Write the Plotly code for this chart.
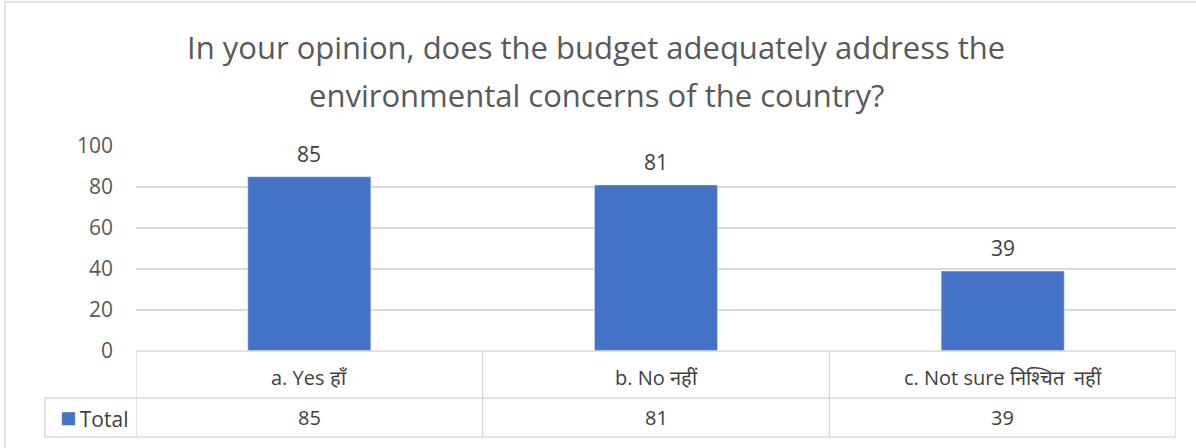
import plotly.graph_objects as go

categories = ["a. Yes हाँ", "b. No नहीं", "c. Not sure निश्चित  नहीं"]
totals = [85, 81, 39]
series_name = "Total"
title_lines = ["In your opinion, does the budget adequately address the",
               "environmental concerns of the country?"]
y_ticks = [0, 20, 40, 60, 80, 100]

BLUE = "#4472C4"
GREY = "#595959"
TXT = "#404040"
LINE = "#D9D9D9"
FONT = "Open Sans, Liberation Sans, sans-serif"

# plot area in px: x 136..1176, y 146..351
L, R, T, B = 136, 20, 146, 97
pw, ph = 1196 - L - R, 448 - T - B


def px_x(x):
    return (x - L) / pw


def px_y(y):
    return (448 - B - y) / ph


fig = go.Figure()
fig.add_trace(
    go.Bar(
        x=list(range(len(categories))),
        y=totals,
        name=series_name,
        marker_color=BLUE,
        width=0.355,
    )
)

# data table lines
n = len(categories)
row1, row2 = px_y(398), px_y(437)
shapes = []
shapes.append(dict(type="line", xref="x", yref="paper", x0=-0.5, x1=n - 0.5, y0=0, y1=0))
for yy in (row1, row2):
    shapes.append(dict(type="line", xref="paper", yref="paper", x0=px_x(45), x1=1, y0=yy, y1=yy))
shapes.append(dict(type="line", xref="paper", yref="paper", x0=px_x(45), x1=px_x(45), y0=row1, y1=row2))
for b in range(n + 1):
    shapes.append(dict(type="line", xref="x", yref="paper", x0=b - 0.5, x1=b - 0.5, y0=0, y1=row2))
for s in shapes:
    s["line"] = dict(color=LINE, width=1.5)
# chart border
shapes.append(dict(type="rect", xref="paper", yref="paper",
                   x0=px_x(5), x1=px_x(1200), y0=px_y(452), y1=px_y(2),
                   line=dict(color=LINE, width=1.5)))

font_tbl = dict(size=20, color=TXT, family=FONT)
annotations = []
for i, (c, v) in enumerate(zip(categories, totals)):
    # data label above bar
    annotations.append(dict(x=i, y=v, xref="x", yref="y", text=str(v), showarrow=False,
                            yanchor="bottom", yshift=7,
                            font=dict(size=21, color=TXT, family=FONT)))
    annotations.append(dict(x=i, y=px_y(377), xref="x", yref="paper", text=c, showarrow=False,
                            xanchor="center", yanchor="middle", font=font_tbl))
    annotations.append(dict(x=i, y=px_y(417), xref="x", yref="paper", text=str(v), showarrow=False,
                            xanchor="center", yanchor="middle", font=font_tbl))
annotations.append(dict(x=px_x(58), y=px_y(416), xref="paper", yref="paper",
                        text=f"<span style='color:{BLUE};font-size:27px'>■</span>&#8201;{series_name}",
                        showarrow=False, xanchor="left", yanchor="middle",
                        font=dict(size=21, color=TXT, family=FONT)))
for k, line in enumerate(title_lines):
    annotations.append(dict(x=px_x(596), y=px_y(47 + 48 * k), xref="paper", yref="paper", text=line,
                            showarrow=False, xanchor="center", yanchor="middle",
                            font=dict(size=31, color=GREY, family=FONT)))

fig.update_layout(
    width=1196,
    height=448,
    margin=dict(l=L, r=R, t=T, b=B),
    paper_bgcolor="white",
    plot_bgcolor="white",
    showlegend=False,
    xaxis=dict(range=[-0.5, n - 0.5], showticklabels=False, showgrid=False,
               zeroline=False, showline=False),
    yaxis=dict(range=[0, 100], tickvals=y_ticks, showgrid=True, gridcolor=LINE, gridwidth=1.5,
               zeroline=False, showline=False, ticklabelstandoff=22,
               tickfont=dict(size=21, color=GREY, family=FONT)),
    shapes=shapes,
    annotations=annotations,
)

fig.write_html("out.html", config={"displayModeBar": False},
               post_script="document.body.style.margin='0px';")
